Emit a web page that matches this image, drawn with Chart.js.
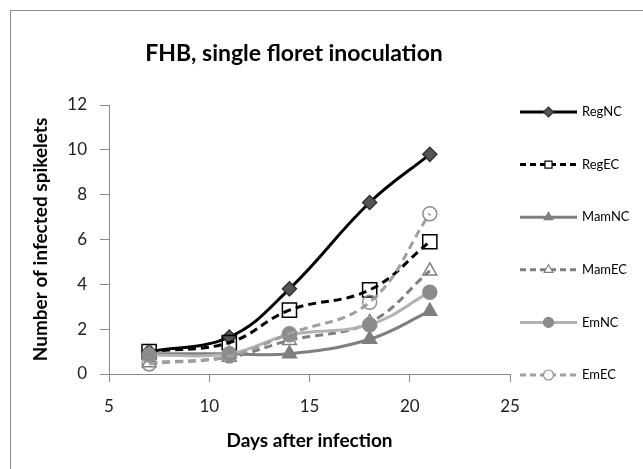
<!DOCTYPE html>
<html>
<head>
<meta charset="utf-8">
<script src="https://cdn.jsdelivr.net/npm/chart.js@4/dist/chart.umd.min.js"></script>
<style>
  body { margin: 0; background: #fff; }
  #wrap { width: 643px; height: 469px; }
</style>
</head>
<body>
<div id="wrap"><canvas id="fhbChart" width="643" height="469"></canvas></div>
<script>
// Days after infection
const days = [7, 11, 14, 18, 21];

// Number of infected spikelets per series
const regNC = [1.0, 1.65, 3.8, 7.65, 9.8];
const regEC = [1.0, 1.4, 2.85, 3.75, 5.9];
const mamNC = [0.9, 0.9, 0.9, 1.55, 2.8];
const mamEC = [0.5, 0.75, 1.5, 2.3, 4.6];
const emNC = [0.85, 0.9, 1.75, 2.2, 3.65];
const emEC = [0.45, 0.8, 1.8, 3.2, 7.15];

const seriesNames = ['RegNC', 'RegEC', 'MamNC', 'MamEC', 'EmNC', 'EmEC'];
const xTicks = [5, 10, 15, 20, 25];
const yTicks = [0, 2, 4, 6, 8, 10, 12];

const FONT = 'Lato, "Open Sans", sans-serif';

const styles = [
  { line: '#000000', dash: [], style: 'rectRot', r: 7, fill: '#555555', edge: '#333333' },
  { line: '#000000', dash: [8, 5], style: 'rect', r: 10, fill: 'rgba(0,0,0,0)', edge: '#000000' },
  { line: '#7f7f7f', dash: [], style: 'triangle', r: 8, fill: '#7f7f7f', edge: '#7f7f7f' },
  { line: '#7f7f7f', dash: [8, 5], style: 'triangle', r: 8, fill: 'rgba(0,0,0,0)', edge: '#7f7f7f' },
  { line: '#b2b2b2', dash: [], style: 'circle', r: 7, fill: '#8c8c8c', edge: '#8c8c8c' },
  { line: '#a0a0a0', dash: [8, 5], style: 'circle', r: 7, fill: 'rgba(0,0,0,0)', edge: '#8f8f8f' }
];

const values = [regNC, regEC, mamNC, mamEC, emNC, emEC];

const datasets = values.map((vals, i) => ({
  label: seriesNames[i],
  data: days.map((d, k) => ({ x: d, y: vals[k] })),
  borderColor: styles[i].line,
  borderWidth: 3,
  borderDash: styles[i].dash,
  tension: 0.4,
  pointStyle: styles[i].style,
  pointRadius: styles[i].r,
  pointBackgroundColor: styles[i].fill,
  pointBorderColor: styles[i].edge,
  pointBorderWidth: 1.5,
  order: 5 - i
}));

// frame, title and legend with line + marker
const decorations = {
  id: 'decorations',
  beforeDraw(chart) {
    const ctx = chart.ctx;
    ctx.save();
    ctx.strokeStyle = '#8a8a8a';
    ctx.lineWidth = 1;
    ctx.strokeRect(10.5, 10.5, 700, 500);
    ctx.restore();
  },
  afterDraw(chart) {
    const ctx = chart.ctx;
    ctx.save();
    ctx.fillStyle = '#000';
    ctx.font = 'bold 23px ' + FONT;
    ctx.textAlign = 'center';
    ctx.textBaseline = 'middle';
    ctx.fillText('FHB, single floret inoculation', 294, 54);

    ctx.font = '13px ' + FONT;
    ctx.textAlign = 'left';
    styles.forEach((s, i) => {
      const y = 112 + i * 52.6;
      ctx.save();
      ctx.strokeStyle = s.line;
      ctx.lineWidth = 3;
      ctx.setLineDash(s.dash.length ? [6, 4] : []);
      ctx.beginPath();
      ctx.moveTo(520, y);
      ctx.lineTo(577, y);
      ctx.stroke();
      ctx.setLineDash([]);
      ctx.fillStyle = s.fill === 'rgba(0,0,0,0)' ? '#fff' : s.fill;
      ctx.strokeStyle = s.edge;
      ctx.lineWidth = 1.2;
      Chart.helpers.drawPoint(ctx, { pointStyle: s.style, radius: Math.min(s.r, 6) - 1, rotation: 0, borderWidth: 1.2 }, 548.5, y);
      ctx.restore();
      ctx.fillStyle = '#000';
      ctx.fillText(seriesNames[i], 582, y);
    });
    ctx.restore();
  }
};

new Chart(document.getElementById('fhbChart').getContext('2d'), {
  type: 'line',
  data: { datasets },
  options: {
    responsive: false,
    animation: false,
    layout: { padding: { top: 105, right: 133, bottom: 0, left: 0 } },
    plugins: {
      legend: { display: false },
      tooltip: { enabled: false }
    },
    scales: {
      x: {
        type: 'linear',
        min: xTicks[0],
        max: xTicks[xTicks.length - 1],
        afterBuildTicks: (scale) => { scale.ticks = xTicks.map(v => ({ value: v })); },
        afterFit: (scale) => { scale.height = 95; },
        border: { color: '#8a8a8a', width: 1 },
        grid: { drawOnChartArea: false, drawTicks: true, tickLength: 8, color: '#8a8a8a' },
        ticks: { color: '#222', padding: 14, font: { family: FONT, size: 17 } },
        title: {
          display: true,
          text: 'Days after infection',
          color: '#000',
          font: { family: FONT, size: 19, weight: 'bold' },
          padding: { top: 0, bottom: 17 }
        }
      },
      y: {
        min: yTicks[0],
        max: yTicks[yTicks.length - 1],
        afterBuildTicks: (scale) => { scale.ticks = yTicks.map(v => ({ value: v })); },
        afterFit: (scale) => { scale.width = 109; },
        border: { color: '#8a8a8a', width: 1 },
        grid: { drawOnChartArea: false, drawTicks: true, tickLength: 9, color: '#8a8a8a' },
        ticks: { color: '#222', padding: 13, font: { family: FONT, size: 17 } },
        title: {
          display: true,
          text: 'Number of infected spikelets',
          color: '#000',
          font: { family: FONT, size: 19, weight: 'bold' },
          padding: { top: 29, bottom: 0 }
        }
      }
    }
  },
  plugins: [decorations]
});
</script>
</body>
</html>
